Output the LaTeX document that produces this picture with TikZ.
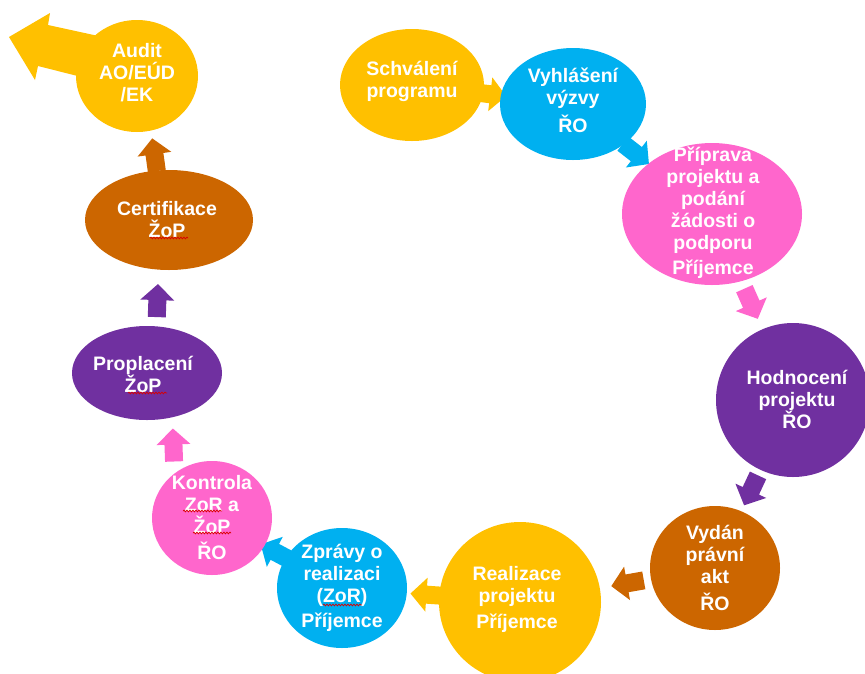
\documentclass[tikz,border=0pt]{standalone}
\usepackage{fontspec}
\setmainfont{Liberation Sans}
\usetikzlibrary{calc,shapes.geometric,decorations.pathmorphing}

\definecolor{cyellow}{HTML}{FFC000}
\definecolor{cblue}{HTML}{00B0F0}
\definecolor{cpink}{HTML}{FF66CC}
\definecolor{cpurple}{HTML}{7030A0}
\definecolor{cbrown}{HTML}{CC6600}

\pgfdeclarelayer{bg}
\pgfsetlayers{bg,main}

\tikzset{
  bubble/.style={ellipse, inner sep=0pt, draw=none},
  btext/.style={text=white, align=center, inner sep=0pt,
    font=\bfseries\fontsize{19.5}{22}\selectfont},
  farrow/.pic={\fill[pic actions] (-16,-9) -- (1,-9) -- (1,-17) -- (17,0)
      -- (1,17) -- (1,9) -- (-16,9) -- cycle;},
  squiggle/.style={red!85!black, line width=0.7pt, decorate,
    decoration={snake, amplitude=0.9pt, segment length=3pt}},
}

\begin{document}
\begin{tikzpicture}[x=1pt,y=-1pt]
\useasboundingbox (0,0) rectangle (865,673);

% process stages
\node[bubble, fill=cyellow, minimum width=122pt, minimum height=112pt] (audit) at (137,76) {};
\node[bubble, fill=cyellow, minimum width=144pt, minimum height=112pt] (schv) at (412,85) {};
\node[bubble, fill=cblue,   minimum width=146pt, minimum height=112pt] (vyhl) at (573,104) {};
\node[bubble, fill=cpink,   minimum width=180pt, minimum height=142pt] (prip) at (712,214) {};
\node[bubble, fill=cpurple, minimum width=154pt, minimum height=154pt] (hodn) at (793,400) {};
\node[bubble, fill=cbrown,  minimum width=130pt, minimum height=124pt] (vydan) at (715,568) {};
\node[bubble, fill=cyellow, minimum width=162pt, minimum height=160pt] (real) at (520,602) {};
\node[bubble, fill=cblue,   minimum width=130pt, minimum height=120pt] (zpr) at (342,588) {};
\node[bubble, fill=cpink,   minimum width=120pt, minimum height=114pt] (kontr) at (212,518) {};
\node[bubble, fill=cpurple, minimum width=150pt, minimum height=94pt] (propl) at (147,373) {};
\node[bubble, fill=cbrown,  minimum width=168pt, minimum height=100pt] (cert) at (169,220) {};

% stage labels
\node[btext] (audit-t) at ([yshift=3pt]audit) {Audit\\AO/EÚD\\/EK};
\node[btext] (schv-t) at ([yshift=4pt]schv) {Schválení\\programu};
\node[btext] (vyhl-t) at ([yshift=4pt]vyhl) {Vyhlášení\\výzvy\\[6pt]ŘO};
\node[btext] (prip-t) at ([xshift=1pt,yshift=1pt]prip) {Příprava\\projektu a\\podání\\žádosti o\\podporu\\[3pt]Příjemce};
\node[btext] (hodn-t) at ([xshift=4pt,yshift=1pt]hodn) {Hodnocení\\projektu\\ŘO};
\node[btext] (vydan-t) at (vydan) {Vydán\\právní\\akt\\[5pt]ŘO};
\node[btext] (real-t) at ([xshift=-3pt,yshift=3pt]real) {Realizace\\projektu\\[4pt]Příjemce};
\node[btext] (zpr-t) at (zpr) {Zprávy o\\realizaci\\(ZoR)\\[3pt]Příjemce};
\node[btext] (kontr-t) at (kontr) {Kontrola\\ZoR a\\ŽoP\\[4pt]ŘO};
\node[btext] (propl-t) at ([xshift=-4pt,yshift=-1pt]propl) {Proplacení\\ŽoP};
\node[btext] (cert-t) at ([xshift=-2pt]cert) {Certifikace\\ŽoP};

% spelling marks under abbreviations
\draw[squiggle] (150,238) -- (188,238);
\draw[squiggle] (128,393) -- (167,393);
\draw[squiggle] (183,511) -- (222,511);
\draw[squiggle] (193,533) -- (231,533);
\draw[squiggle] (323,605) -- (362,605);

% block arrows between stages, behind the bubbles
\begin{pgfonlayer}{bg}
  \fill[cyellow] (9,37) -- (50,13) -- (48,25) -- (135,44) -- (125,88)
    -- (38,66) -- (35,80) -- cycle;
  \pic[fill=cyellow, rotate=-7]   at ($(schv)!0.48!(vyhl)$)  {farrow};
  \pic[fill=cblue,   rotate=-38]  at ($(vyhl)!0.45!(prip)$)  {farrow};
  \pic[fill=cpink,   rotate=-66]  at ($(prip)!0.48!(hodn)$)  {farrow};
  \pic[fill=cpurple, rotate=-115] at ($(hodn)!0.535!(vydan)$) {farrow};
  \pic[fill=cbrown,  rotate=190]  at ($(vydan)!0.446!(real)$) {farrow};
  \pic[fill=cyellow, rotate=176]  at ($(real)!0.52!(zpr)$)   {farrow};
  \pic[fill=cblue,   rotate=152]  at ($(zpr)!0.51!(kontr)$)  {farrow};
  \pic[fill=cpink,   rotate=92]   at ($(kontr)!0.5!(propl)+(-6,0)$) {farrow};
  \pic[fill=cpurple, rotate=88]   at ($(propl)!0.47!(cert)$) {farrow};
  \pic[fill=cbrown,  rotate=98]   at ($(cert)!0.45!(audit)$) {farrow};
\end{pgfonlayer}
\end{tikzpicture}
\end{document}
